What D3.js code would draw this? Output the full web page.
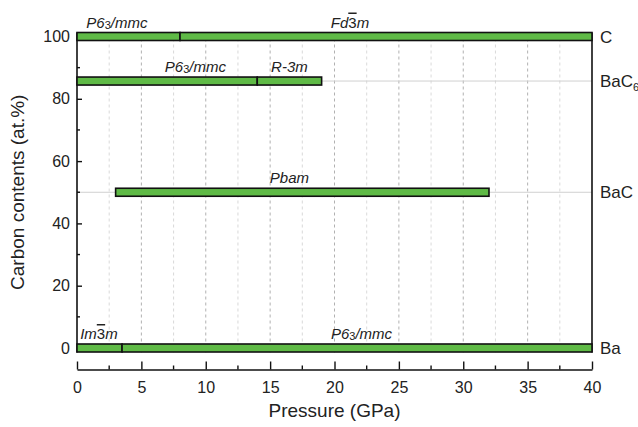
<!DOCTYPE html>
<html>
<head>
<meta charset="utf-8">
<script src="https://cdn.jsdelivr.net/npm/d3@7"></script>
<style>
body { margin: 0; background: #fff; }
text { font-family: "Liberation Sans", Arial, sans-serif; fill: #222; }
</style>
</head>
<body>
<svg id="chart"></svg>
<script>
var width = 638, height = 427

// compounds along the carbon axis
var compounds = ["Ba", "BaC", "BaC6", "C"]
var carbon = [0, 50, 85.7, 100]

// phase segments (pressure ranges in GPa)
var segRow = [3, 3, 2, 2, 1, 0, 0]
var segPhase = ["P63/mmc", "Fd-3m", "P63/mmc", "R-3m", "Pbam", "Im-3m", "P63/mmc"]
var segFrom = [0, 8, 0, 14, 3, 0, 3.5]
var segTo = [8, 40, 14, 19, 32, 3.5, 40]
var labelAt = [3.1, 21.2, 9.2, 16.5, 16.5, 1.7, 22.1]

var xTicks = [0, 5, 10, 15, 20, 25, 30, 35, 40]
var yTicks = [0, 20, 40, 60, 80, 100]

var svg = d3.select("#chart")
    .attr("width", width)
    .attr("height", height)

var x = d3.scaleLinear().domain([0, 40]).range([77, 592])
var y = d3.scaleLinear().domain([0, 100]).range([348, 36.5])
var top_ = 32.5, bottom = 352.5, axisY = 369.5

// vertical dashed grid
var g = svg.append("g")
g.selectAll(".vminor")
    .data(d3.range(2.5, 40, 5))
    .enter().append("line")
    .attr("x1", d => x(d)).attr("x2", d => x(d))
    .attr("y1", top_).attr("y2", bottom)
    .attr("stroke", "#cfcfcf").attr("stroke-width", 0.8)
    .attr("stroke-dasharray", "3,3")
g.selectAll(".vmajor")
    .data(d3.range(5, 40, 5))
    .enter().append("line")
    .attr("x1", d => x(d)).attr("x2", d => x(d))
    .attr("y1", top_).attr("y2", bottom)
    .attr("stroke", "#a8a8a8").attr("stroke-width", 0.9)
    .attr("stroke-dasharray", "3,3")

// horizontal grid at each compound
g.selectAll(".hgrid")
    .data(carbon)
    .enter().append("line")
    .attr("x1", x(0)).attr("x2", x(40))
    .attr("y1", d => y(d)).attr("y2", d => y(d))
    .attr("stroke", "#d0d0d0").attr("stroke-width", 1)

// frame sides
svg.append("line").attr("x1", x(40)).attr("x2", x(40))
    .attr("y1", top_).attr("y2", bottom)
    .attr("stroke", "#111").attr("stroke-width", 1.6)

// left axis
var yAxis = d3.axisLeft(y).tickValues(yTicks).tickSizeInner(-5).tickSizeOuter(0).tickPadding(7)
var ya = svg.append("g").attr("transform", "translate(" + x(0) + ",0)").call(yAxis)
ya.select(".domain").attr("d", "M0," + top_ + "V" + bottom).attr("stroke", "#111").attr("stroke-width", 1.6)
ya.selectAll(".tick line").attr("stroke", "#111").attr("stroke-width", 1.4)
ya.selectAll("text").style("font-size", "16px").attr("fill", "#222")
    .style("font-family", "Liberation Sans, Arial, sans-serif")
ya.selectAll(".minor")
    .data(d3.range(10, 100, 20))
    .enter().append("line")
    .attr("x1", 0).attr("x2", 3)
    .attr("y1", d => y(d)).attr("y2", d => y(d))
    .attr("stroke", "#111").attr("stroke-width", 1.4)

// bottom axis, offset below the plot
var xAxis = d3.axisBottom(x).tickValues(xTicks).tickSizeInner(-8).tickSizeOuter(0).tickPadding(12)
var xa = svg.append("g").attr("transform", "translate(0," + axisY + ")").call(xAxis)
xa.select(".domain").attr("stroke", "#111").attr("stroke-width", 1.6)
xa.selectAll(".tick line").attr("stroke", "#111").attr("stroke-width", 1.4)
xa.selectAll("text").style("font-size", "16px").attr("fill", "#222")
    .style("font-family", "Liberation Sans, Arial, sans-serif")
xa.selectAll(".minor")
    .data(d3.range(2.5, 40, 5))
    .enter().append("line")
    .attr("x1", d => x(d)).attr("x2", d => x(d))
    .attr("y1", 0).attr("y2", -4)
    .attr("stroke", "#111").attr("stroke-width", 1.4)

// bars
var barH = 8
svg.append("g").selectAll("rect")
    .data(segFrom)
    .enter().append("rect")
    .attr("x", (d, i) => x(d))
    .attr("width", (d, i) => x(segTo[i]) - x(d))
    .attr("y", (d, i) => y(carbon[segRow[i]]) - barH / 2)
    .attr("height", barH)
    .attr("fill", "#5fba46")
    .attr("stroke", "#111")
    .attr("stroke-width", 1.6)

// phase labels
function phaseText(sel, name) {
    if (name.indexOf("P63") === 0) {
        sel.append("tspan").text("P6")
        sel.append("tspan").text("3").style("font-size", "11px").style("font-style", "normal").attr("dy", 1)
        sel.append("tspan").text(name.slice(3)).attr("dy", -1)
    } else if (name.indexOf("-3") > 0 && name !== "R-3m") {
        var p = name.split("-3")
        sel.append("tspan").text(p[0])
        sel.append("tspan").text("3").style("font-style", "normal").style("text-decoration", "overline")
        sel.append("tspan").text(p[1])
    } else {
        sel.text(name)
    }
}
segPhase.forEach(function (name, i) {
    var t = svg.append("text")
        .attr("x", x(labelAt[i]))
        .attr("y", y(carbon[segRow[i]]) - barH / 2 - 5)
        .attr("text-anchor", "middle")
        .style("font-size", "15px")
        .style("font-style", "italic")
    phaseText(t, name)
})

// compound labels on the right
compounds.forEach(function (c, i) {
    var t = svg.append("text")
        .attr("x", x(40) + 8)
        .attr("y", y(carbon[i]) + 6)
        .style("font-size", "17px")
    if (c === "BaC6") {
        t.append("tspan").text("BaC")
        t.append("tspan").text("6").style("font-size", "11px").attr("dy", 4)
    } else {
        t.text(c)
    }
})

// axis titles
svg.append("text")
    .attr("x", (x(0) + x(40)) / 2)
    .attr("y", 417)
    .attr("text-anchor", "middle")
    .style("font-size", "19px")
    .text("Pressure (GPa)")
svg.append("text")
    .attr("transform", "translate(24," + (y(50)) + ") rotate(-90)")
    .attr("text-anchor", "middle")
    .style("font-size", "19px")
    .text("Carbon contents (at.%)")
</script>
</body>
</html>
